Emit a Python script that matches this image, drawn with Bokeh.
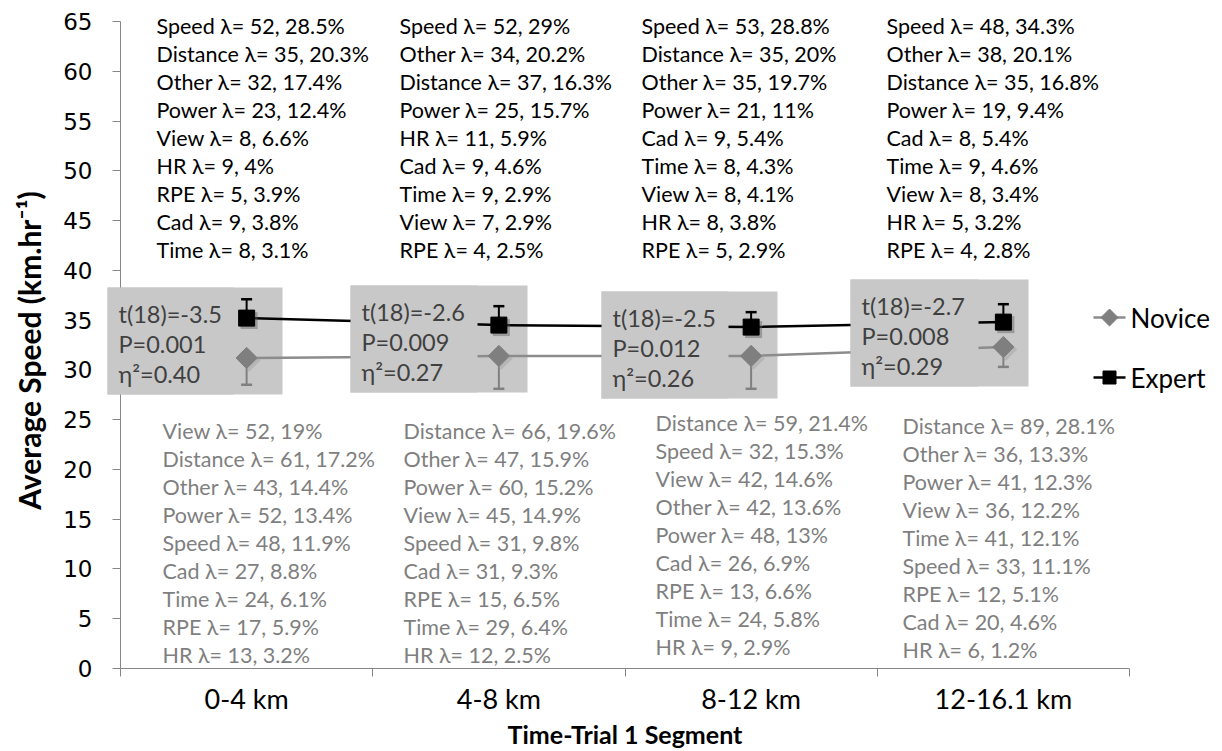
import math
from bokeh.plotting import figure
from bokeh.models import (Range1d, FixedTicker, ColumnDataSource, LabelSet, Label,
                          BoxAnnotation)
from bokeh.core.properties import value
from bokeh.embed import file_html
from bokeh.resources import INLINE

# ---- data -------------------------------------------------------------
segments = ["0-4 km", "4-8 km", "8-12 km", "12-16.1 km"]
series = ["Novice", "Expert"]

expert_speed = [35.2, 34.5, 34.3, 34.8]
expert_err_up = [1.9, 1.9, 1.5, 1.8]
novice_speed = [31.2, 31.4, 31.4, 32.3]
novice_err_down = [2.7, 3.3, 3.3, 2.0]

y_ticks = list(range(0, 70, 5))

t_stat = ["-3.5", "-2.6", "-2.5", "-2.7"]
p_value = ["0.001", "0.009", "0.012", "0.008"]
eta_sq = ["0.40", "0.27", "0.26", "0.29"]

# attention factors per segment (name, lambda, percent)
expert_factor = [
    ["Speed", "Distance", "Other", "Power", "View", "HR", "RPE", "Cad", "Time"],
    ["Speed", "Other", "Distance", "Power", "HR", "Cad", "Time", "View", "RPE"],
    ["Speed", "Distance", "Other", "Power", "Cad", "Time", "View", "HR", "RPE"],
    ["Speed", "Other", "Distance", "Power", "Cad", "Time", "View", "HR", "RPE"],
]
expert_lambda = [
    [52, 35, 32, 23, 8, 9, 5, 9, 8],
    [52, 34, 37, 25, 11, 9, 9, 7, 4],
    [53, 35, 35, 21, 9, 8, 8, 8, 5],
    [48, 38, 35, 19, 8, 9, 8, 5, 4],
]
expert_pct = [
    [28.5, 20.3, 17.4, 12.4, 6.6, 4, 3.9, 3.8, 3.1],
    [29, 20.2, 16.3, 15.7, 5.9, 4.6, 2.9, 2.9, 2.5],
    [28.8, 20, 19.7, 11, 5.4, 4.3, 4.1, 3.8, 2.9],
    [34.3, 20.1, 16.8, 9.4, 5.4, 4.6, 3.4, 3.2, 2.8],
]

novice_factor = [
    ["View", "Distance", "Other", "Power", "Speed", "Cad", "Time", "RPE", "HR"],
    ["Distance", "Other", "Power", "View", "Speed", "Cad", "RPE", "Time", "HR"],
    ["Distance", "Speed", "View", "Other", "Power", "Cad", "RPE", "Time", "HR"],
    ["Distance", "Other", "Power", "View", "Time", "Speed", "RPE", "Cad", "HR"],
]
novice_lambda = [
    [52, 61, 43, 52, 48, 27, 24, 17, 13],
    [66, 47, 60, 45, 31, 31, 15, 29, 12],
    [59, 32, 42, 42, 48, 26, 13, 24, 9],
    [89, 36, 41, 36, 41, 33, 12, 20, 6],
]
novice_pct = [
    [19, 17.2, 14.4, 13.4, 11.9, 8.8, 6.1, 5.9, 3.2],
    [19.6, 15.9, 15.2, 14.9, 9.8, 9.3, 6.5, 6.4, 2.5],
    [21.4, 15.3, 14.6, 13.6, 13, 6.9, 6.6, 5.8, 2.9],
    [28.1, 13.3, 12.3, 12.2, 12.1, 11.1, 5.1, 4.6, 1.2],
]

# ---- page geometry ----------------------------------------------------
# The frame fills the whole page; the axes are pinned at x=0 / y=0 so that
# annotations outside the plotting rectangle are not clipped.
W, H = 1222, 751
PL, PR, PT, PB = 120, 1129, 21, 668      # plotting rectangle in page pixels
NSEG = len(segments)
YMAX = y_ticks[-1]


def dx(px):
    return (px - PL) / (PR - PL) * NSEG


def dy(py):
    return (PB - py) / (PB - PT) * YMAX


BODY = "Lato"
DARK = "#404040"
GREY = "#7f7f7f"
BOX = "#c8c8c8"
AXIS = "#868686"

p = figure(width=W, height=H, output_backend="svg", toolbar_location=None,
           x_range=Range1d(dx(0), dx(W)), y_range=Range1d(dy(H), dy(0)),
           min_border=0, min_border_left=0, min_border_right=0,
           min_border_top=0, min_border_bottom=0)
p.outline_line_color = None
p.grid.visible = False
p.background_fill_color = "white"
p.border_fill_color = "white"

xc = [i + 0.5 for i in range(NSEG)]

# ---- axes -------------------------------------------------------------
xa = p.xaxis[0]
xa.fixed_location = 0
xa.bounds = (0, NSEG)
xa.ticker = FixedTicker(ticks=xc, minor_ticks=list(range(NSEG + 1)))
xa.major_label_overrides = {c: s for c, s in zip(xc, segments)}
xa.major_tick_out = 0
xa.major_tick_in = 0
xa.minor_tick_out = 8
xa.minor_tick_in = 0
xa.minor_tick_line_color = AXIS
xa.axis_line_color = AXIS
xa.major_label_text_font = BODY
xa.major_label_text_font_size = "27px"
xa.major_label_text_color = "black"
xa.major_label_standoff = 5

ya = p.yaxis[0]
ya.fixed_location = 0
ya.bounds = (0, YMAX)
ya.ticker = FixedTicker(ticks=y_ticks, minor_ticks=[])
ya.major_tick_out = 8
ya.major_tick_in = 0
ya.minor_tick_out = 0
ya.minor_tick_in = 0
ya.major_tick_line_color = AXIS
ya.axis_line_color = AXIS
ya.major_label_text_font = "DejaVu Sans"
ya.major_label_text_font_size = "23px"
ya.major_label_text_color = "black"
ya.major_label_standoff = 20

# ---- stats boxes: background behind the markers -----------------------
box_left_px = [107, 350, 601, 850]
box_right_px = [282, 527, 777, 1028]
text_right_px = [233, 477, 728, 978]
box_top_px = [287, 285, 291, 279]
BOX_H = 107

p.quad(left=[dx(v) for v in box_left_px], right=[dx(v) for v in box_right_px],
       top=[dy(v) for v in box_top_px], bottom=[dy(v + BOX_H) for v in box_top_px],
       fill_color=BOX, line_color=None)

# ---- series -----------------------------------------------------------
NOV_LINE = "#8c8c8c"
NOV_MARK = "#7f7f7f"
p.line(xc, novice_speed, line_color=NOV_LINE, line_width=2.5)
p.line(xc, expert_speed, line_color="black", line_width=2.5)

nov_low = [m - e for m, e in zip(novice_speed, novice_err_down)]
exp_high = [m + e for m, e in zip(expert_speed, expert_err_up)]
p.segment(xc, novice_speed, xc, nov_low, line_color="#808080", line_width=2)
p.scatter(xc, nov_low, marker="dash", size=11, line_color="#808080", line_width=2.5)
p.segment(xc, expert_speed, xc, exp_high, line_color="black", line_width=2)
p.scatter(xc, exp_high, marker="dash", size=11, line_color="black", line_width=2.5)

# soft drop shadows under the markers
sh = 2.5 / (PR - PL) * NSEG
shy = 2.5 / (PB - PT) * YMAX
p.scatter([v + sh for v in xc], [v - shy for v in novice_speed], marker="square",
          angle=math.pi / 4, size=16, fill_color="#a0a0a0", fill_alpha=0.45, line_color=None)
p.scatter([v + sh for v in xc], [v - shy for v in expert_speed], marker="square",
          size=17, fill_color="#606060", fill_alpha=0.45, line_color=None)

p.scatter(xc, novice_speed, marker="square", angle=math.pi / 4, size=15,
          fill_color=NOV_MARK, line_color=NOV_MARK, line_width=1)
p.scatter(xc, expert_speed, marker="square", size=16, fill_color="black", line_color="black")

# ---- legend (line + marker swatch and label) ---------------------------
leg_y = [dy(317), dy(377)]
leg_x0, leg_xm, leg_x1, leg_tx = dx(1093), dx(1109), dx(1125), dx(1130)
p.segment([leg_x0] * 2, leg_y, [leg_x1] * 2, leg_y, line_color=[NOV_LINE, "black"], line_width=2.5)
p.scatter([leg_xm], [leg_y[0]], marker="square", angle=math.pi / 4, size=12,
          fill_color=NOV_MARK, line_color=NOV_MARK)
p.scatter([leg_xm], [leg_y[1]], marker="square", size=13, fill_color="black", line_color="black")
for name, yy in zip(series, leg_y):
    p.add_layout(Label(x=leg_tx, y=yy, text=name, text_font=BODY, text_font_size="26px",
                       text_color="black", text_align="left", text_baseline="middle"))

# ---- stats text boxes (sit over the lines and the axis) -----------------
for i in range(NSEG):
    p.add_layout(BoxAnnotation(left=dx(box_left_px[i]), right=dx(text_right_px[i]),
                               top=dy(box_top_px[i]), bottom=dy(box_top_px[i] + BOX_H),
                               fill_color=BOX, fill_alpha=1.0, line_color=None,
                               level="annotation"))

stat_x, stat_y, stat_txt = [], [], []
for i in range(NSEG):
    lines = [f"t(18)={t_stat[i]}", f"P={p_value[i]}", f"\u03b7\u00b2={eta_sq[i]}"]
    for k, s in enumerate(lines):
        stat_x.append(dx(box_left_px[i] + 11))
        stat_y.append(dy(box_top_px[i] + 26 + 30 * k))
        stat_txt.append(s)
p.add_layout(LabelSet(x="x", y="y", text="t",
                      source=ColumnDataSource(dict(x=stat_x, y=stat_y, t=stat_txt)),
                      text_font=value(BODY), text_font_size="23.5px", text_color=DARK,
                      text_align="left", text_baseline="middle"))

# ---- attention factor lists ------------------------------------------
ROW = 28
top_x_px = [156, 399, 641, 886]
bot_x_px = [162, 403, 655, 902]
bot_last_px = [654, 654, 646, 649]


def factor_rows(names, lams, pcts):
    return [f"{n} \u03bb= {l}, {pc:g}%" for n, l, pc in zip(names, lams, pcts)]


tx, ty, tt = [], [], []
bx, by, bt = [], [], []
for i in range(NSEG):
    rows = factor_rows(expert_factor[i], expert_lambda[i], expert_pct[i])
    for k, s in enumerate(rows):
        tx.append(dx(top_x_px[i]))
        ty.append(dy(25 + ROW * k))
        tt.append(s)
    rows = factor_rows(novice_factor[i], novice_lambda[i], novice_pct[i])
    n = len(rows)
    for k, s in enumerate(rows):
        bx.append(dx(bot_x_px[i]))
        by.append(dy(bot_last_px[i] - ROW * (n - 1 - k)))
        bt.append(s)

p.add_layout(LabelSet(x="x", y="y", text="t", source=ColumnDataSource(dict(x=tx, y=ty, t=tt)),
                      text_font=value(BODY), text_font_size="21.5px", text_color="black",
                      text_align="left", text_baseline="middle"))
p.add_layout(LabelSet(x="x", y="y", text="t", source=ColumnDataSource(dict(x=bx, y=by, t=bt)),
                      text_font=value(BODY), text_font_size="21.5px", text_color=GREY,
                      text_align="left", text_baseline="middle"))

# ---- axis titles --------------------------------------------------------
p.add_layout(Label(x=dx(28), y=dy(350), text="Average Speed (km.hr\u207b\u00b9)",
                   angle=math.pi / 2, text_align="center", text_baseline="middle",
                   text_font=BODY, text_font_style="bold", text_font_size="30px",
                   text_color="black"))
p.add_layout(Label(x=dx((PL + PR) / 2), y=dy(733), text="Time-Trial 1 Segment",
                   text_align="center", text_baseline="middle",
                   text_font=BODY, text_font_style="bold", text_font_size="25px",
                   text_color="black"))

open("out.html", "w").write(file_html(p, INLINE))
